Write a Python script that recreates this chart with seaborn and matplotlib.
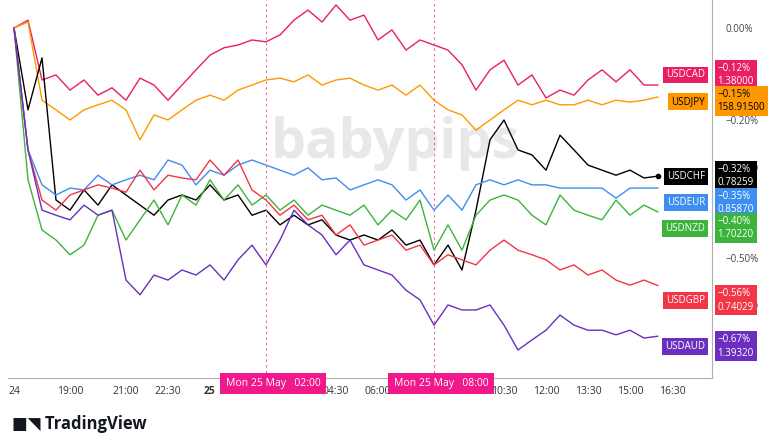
import numpy as np
import pandas as pd
import matplotlib
matplotlib.use("Agg")
import matplotlib.pyplot as plt
import seaborn as sns

hours = [i * 0.5 for i in range(47)]  # hours since 17:00 on the 24th

usdcad = [0,.017,-.113,-.102,-.135,-.113,-.146,-.130,-.157,-.109,-.124,-.157,-.124,-.091,-.059,-.043,-.037,-.026,-.030,-.015,.017,.039,.013,.050,.017,.028,-.026,-.004,-.048,-.026,-.037,-.048,-.080,-.135,-.091,-.070,-.124,-.102,-.152,-.135,-.146,-.113,-.091,-.117,-.091,-.124,-.124]
usdjpy = [0,.013,-.157,-.178,-.200,-.178,-.167,-.157,-.178,-.243,-.189,-.200,-.178,-.157,-.146,-.157,-.135,-.124,-.113,-.109,-.117,-.102,-.124,-.113,-.109,-.124,-.135,-.124,-.146,-.124,-.157,-.178,-.189,-.222,-.200,-.178,-.157,-.167,-.157,-.167,-.167,-.157,-.167,-.157,-.161,-.157,-.150]
usdchf = [0,-.178,-.065,-.374,-.396,-.352,-.385,-.341,-.363,-.385,-.407,-.374,-.363,-.374,-.341,-.374,-.363,-.407,-.396,-.428,-.407,-.428,-.417,-.450,-.461,-.450,-.461,-.439,-.472,-.461,-.515,-.472,-.526,-.396,-.243,-.200,-.265,-.276,-.309,-.233,-.265,-.298,-.309,-.320,-.309,-.326,-.322]
usdeur = [0,-.265,-.341,-.363,-.348,-.352,-.320,-.341,-.330,-.320,-.330,-.287,-.298,-.341,-.309,-.320,-.298,-.287,-.298,-.309,-.320,-.304,-.330,-.326,-.352,-.341,-.330,-.341,-.374,-.352,-.396,-.363,-.396,-.341,-.330,-.341,-.330,-.341,-.341,-.348,-.348,-.348,-.348,-.370,-.348,-.348,-.348]
usdnzd = [0,-.330,-.439,-.461,-.493,-.472,-.407,-.396,-.461,-.417,-.374,-.428,-.363,-.385,-.330,-.374,-.341,-.385,-.363,-.396,-.374,-.407,-.385,-.396,-.407,-.385,-.428,-.396,-.417,-.374,-.483,-.428,-.483,-.407,-.374,-.363,-.374,-.407,-.428,-.363,-.396,-.407,-.417,-.374,-.407,-.385,-.400]
usdgbp = [0,-.265,-.374,-.396,-.363,-.352,-.341,-.348,-.357,-.309,-.352,-.320,-.326,-.330,-.287,-.320,-.287,-.352,-.374,-.407,-.385,-.417,-.407,-.450,-.428,-.472,-.461,-.450,-.483,-.472,-.515,-.493,-.504,-.515,-.483,-.461,-.483,-.493,-.504,-.526,-.515,-.537,-.526,-.548,-.559,-.548,-.560]
usdaud = [0,-.265,-.396,-.407,-.417,-.385,-.407,-.396,-.548,-.580,-.537,-.548,-.526,-.537,-.515,-.548,-.504,-.472,-.515,-.461,-.396,-.428,-.450,-.493,-.461,-.515,-.526,-.537,-.570,-.591,-.646,-.602,-.613,-.613,-.602,-.646,-.700,-.678,-.657,-.624,-.646,-.657,-.657,-.667,-.657,-.674,-.670]

names = ["USDCAD", "USDJPY", "USDCHF", "USDEUR", "USDNZD", "USDGBP", "USDAUD"]
series = [usdcad, usdjpy, usdchf, usdeur, usdnzd, usdgbp, usdaud]
last_pct = ["\u22120.12%", "\u22120.15%", "\u22120.32%", "\u22120.35%", "\u22120.40%", "\u22120.56%", "\u22120.67%"]
last_price = ["1.38000", "158.91500", "0.78259", "0.85870", "1.70220", "0.74029", "1.39320"]
label_y = [-0.102, -0.159, -0.322, -0.380, -0.435, -0.592, -0.692]
colors = ["#e91e63", "#ff9800", "#000000", "#3d8ef0", "#3cb43c", "#f23645", "#6b2fbf"]
text_colors = ["white", "black", "white", "white", "white", "white", "white"]

tick_pos = [0, 2, 4, 5.5, 7, 11.5, 13, 17.5, 19, 20.5, 22, 23.5]
tick_lab = ["24", "19:00", "21:00", "22:30", "25", "04:30", "06:00", "10:30", "12:00", "13:30", "15:00", "16:30"]
hl_pos = [9, 15]
hl_lab = ["Mon 25 May   02:00", "Mon 25 May   08:00"]
ytick_pos = [0, -0.2, -0.3, -0.5, -0.6]
ytick_lab = ["0.00%", "\u22120.20%", "\u22120.30%", "\u22120.50%", "\u22120.60%"]

df = pd.concat([pd.DataFrame({"h": hours, "pct": s, "sym": n}) for n, s in zip(names, series)])

sns.set_style("white")
plt.rcParams["font.family"] = ["Open Sans", "DejaVu Sans"]
fig = plt.figure(figsize=(7.8, 4.48), dpi=100)
ax = fig.add_axes([8/780, 70/448, 704/780, 378/448])
sns.lineplot(data=df, x="h", y="pct", hue="sym", palette=dict(zip(names, colors)),
             ax=ax, legend=False, linewidth=1.0)
ax.plot(hours[-1], usdchf[-1], "o", color="black", ms=3)

x0 = (8 - 14) / 28
x1 = (712 - 14) / 28
ax.set_xlim(x0, x1)
ax.set_ylim(-350/460, 28/460)
for h in hl_pos:
    ax.axvline(h, color="#f06292", ls=(0, (2, 3)), lw=0.8)
ax.set_xticks(tick_pos)
ax.set_xticklabels(tick_lab, fontsize=7.5, color="#333333")
ax.get_xticklabels()[4].set_fontweight("bold")
ax.tick_params(axis="x", length=0, pad=6)
for h, l in zip(hl_pos, hl_lab):
    ax.text(h + 0.25, -0.0, l, transform=ax.get_xaxis_transform(), ha="center", va="top",
            fontsize=7.5, color="white",
            bbox=dict(boxstyle="square,pad=0.5", fc="#f0188a", ec="none"))
ax.yaxis.tick_right()
ax.set_yticks(ytick_pos)
ax.set_yticklabels(ytick_lab, fontsize=7, color="#444444")
ax.tick_params(axis="y", length=0, pad=10)
ax.set_xlabel("")
ax.set_ylabel("")
for side in ["top", "left"]:
    ax.spines[side].set_visible(False)
ax.spines["right"].set_color("#b0b0b0")
ax.spines["bottom"].set_color("#b0b0b0")

ax.text(0.55, 0.62, "babypips", transform=ax.transAxes, fontsize=40, fontweight="bold",
        color="#e8e8e8", ha="center", va="center", zorder=0)

for n, c, tc, p, pr, y in zip(names, colors, text_colors, last_pct, last_price, label_y):
    ax.text(x1 - 0.25, y, n, ha="right", va="center", fontsize=7, color=tc, clip_on=False,
            bbox=dict(boxstyle="square,pad=0.3", fc=c, ec="none"))
    ax.text(x1 + 0.2, y, p + "\n" + pr, ha="left", va="center", fontsize=7, color=tc,
            clip_on=False, linespacing=1.3,
            bbox=dict(boxstyle="square,pad=0.3", fc=c, ec="none"))

fig.text(12/780, 1 - 424/448, "\u25A0\u25E5 TradingView", fontsize=12, fontweight="bold",
         color="#131722", va="center")
fig.savefig("out.png", dpi=100)
